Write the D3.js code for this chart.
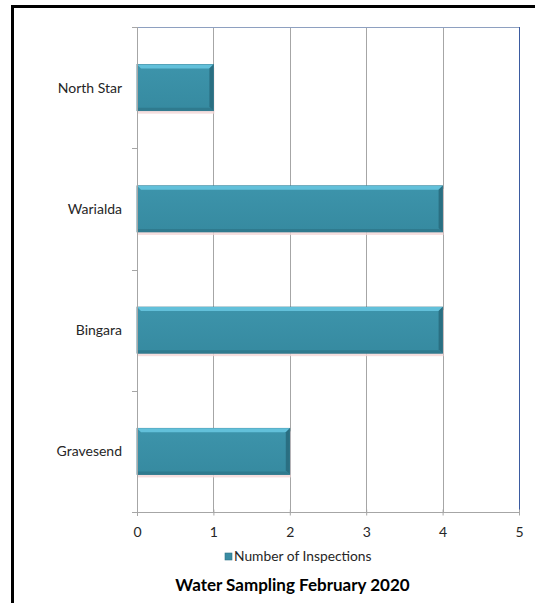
<!DOCTYPE html>
<html><head><meta charset="utf-8">
<script src="https://cdn.jsdelivr.net/npm/d3@7"></script>
<style>body{margin:0;background:#fff}svg{display:block}</style>
</head><body>
<script>
const categories = ["North Star", "Warialda", "Bingara", "Gravesend"];
const values = [1, 4, 4, 2];
const xTicks = [0, 1, 2, 3, 4, 5];
const seriesName = "Number of Inspections";
const title = "Water Sampling February 2020";

(function () {
const W = 535, H = 603;
const svg = d3.select("body").append("svg").attr("width", W).attr("height", H);
const font = "Lato, 'Open Sans', sans-serif";

svg.append("rect").attr("x", 0).attr("y", 0).attr("width", W).attr("height", H).attr("fill", "#fff");
svg.append("line").attr("x1", 12.5).attr("x2", 12.5).attr("y1", 5).attr("y2", H).attr("stroke", "#000").attr("stroke-width", 3);
svg.append("line").attr("x1", 11).attr("x2", W).attr("y1", 6.5).attr("y2", 6.5).attr("stroke", "#000").attr("stroke-width", 3);

const pLeft = 137, pRight = 519, pTop = 27, pBottom = 512;
const x = d3.scaleLinear().domain([0, 5]).range([pLeft, pRight]);
const y = d3.scaleBand().domain(categories).range([pTop, pBottom]).paddingInner(0.62).paddingOuter(0.31);

const defs = svg.append("defs");
const g1 = defs.append("linearGradient").attr("id", "barg").attr("x1", 0).attr("x2", 0).attr("y1", 0).attr("y2", 1);
g1.append("stop").attr("offset", "0%").attr("stop-color", "#3d94ab");
g1.append("stop").attr("offset", "100%").attr("stop-color", "#368aa0");

svg.append("g").selectAll("line").data(xTicks.slice(1, -1)).join("line")
  .attr("x1", d => Math.round(x(d)) + 0.5).attr("x2", d => Math.round(x(d)) + 0.5)
  .attr("y1", pTop).attr("y2", pBottom).attr("stroke", "#a6a6a6").attr("stroke-width", 1);
svg.append("line").attr("x1", pLeft).attr("x2", pRight).attr("y1", pTop + 0.5).attr("y2", pTop + 0.5).attr("stroke", "#8ea0c0");
svg.append("line").attr("x1", pRight + 0.5).attr("x2", pRight + 0.5).attr("y1", pTop).attr("y2", pBottom).attr("stroke", "#3b5ba0");

const bars = svg.append("g").selectAll("g").data(categories).join("g");
bars.append("rect").attr("x", x(0) + 1).attr("y", c => y(c) + 3)
  .attr("width", (c, i) => x(values[i]) - x(0)).attr("height", y.bandwidth())
  .attr("fill", "#f3d6d6").attr("opacity", 0.8);
bars.append("rect").attr("x", x(0)).attr("y", c => y(c))
  .attr("width", (c, i) => x(values[i]) - x(0)).attr("height", y.bandwidth())
  .attr("fill", "url(#barg)").attr("stroke", "#2f7488").attr("stroke-width", 0.8);
bars.append("polygon").attr("points", (c, i) => {
  const x0 = x(0), x1 = x(values[i]), y0 = y(c), b = 4;
  return `${x0},${y0} ${x1},${y0} ${x1 - b},${y0 + b} ${x0 + b},${y0 + b}`;
}).attr("fill", "#62c0da");
bars.append("polygon").attr("points", (c, i) => {
  const x1 = x(values[i]), y0 = y(c), y1 = y(c) + y.bandwidth(), b = 4;
  return `${x1},${y0} ${x1},${y1} ${x1 - b},${y1 - b} ${x1 - b},${y0 + b}`;
}).attr("fill", "#2a6f82");
bars.append("polygon").attr("points", (c, i) => {
  const x0 = x(0), x1 = x(values[i]), y1 = y(c) + y.bandwidth(), b = 3;
  return `${x0},${y1} ${x1},${y1} ${x1 - b},${y1 - b} ${x0},${y1 - b}`;
}).attr("fill", "#2f7a8e");

svg.append("line").attr("x1", pLeft + 0.5).attr("x2", pLeft + 0.5).attr("y1", pTop).attr("y2", pBottom + 4).attr("stroke", "#a6a6a6");
const yTickPos = d3.range(categories.length + 1).map(i => pTop + i * y.step());
svg.append("g").selectAll("line").data(yTickPos).join("line")
  .attr("x1", pLeft - 5).attr("x2", pLeft).attr("y1", d => Math.round(d) + 0.5).attr("y2", d => Math.round(d) + 0.5)
  .attr("stroke", "#a6a6a6");
svg.append("g").selectAll("text").data(categories).join("text")
  .attr("x", 122).attr("y", c => y(c) + y.bandwidth() / 2 + 5)
  .attr("text-anchor", "end").attr("font-family", font).attr("font-size", 14).attr("fill", "#262626").text(c => c);

const xAxis = d3.axisBottom(x).tickValues(xTicks).tickSize(4).tickFormat(d3.format("d"));
const ax = svg.append("g").attr("transform", `translate(0,${pBottom + 0.5})`).call(xAxis);
ax.select(".domain").attr("stroke", "#a6a6a6").attr("d", `M${pLeft},0H${pRight}`);
ax.selectAll(".tick line").attr("stroke", "#a6a6a6").attr("y1", -3).attr("y2", 3);
ax.selectAll("text").attr("font-family", font).attr("font-size", 14).attr("fill", "#262626").attr("dy", 0).attr("y", 24);

const lg = svg.append("g");
lg.append("rect").attr("x", 225).attr("y", 553).attr("width", 7).attr("height", 7).attr("fill", "#3a8ca3").attr("stroke", "#2f7488").attr("stroke-width", 0.6);
lg.append("text").attr("x", 234).attr("y", 561).attr("font-family", font).attr("font-size", 13.8).attr("fill", "#262626").text(seriesName);

svg.append("text").attr("x", 292.5).attr("y", 590.5).attr("text-anchor", "middle")
  .attr("font-family", font).attr("font-weight", "bold").attr("font-size", 17).attr("fill", "#000").text(title);
})();
</script>
</body></html>
